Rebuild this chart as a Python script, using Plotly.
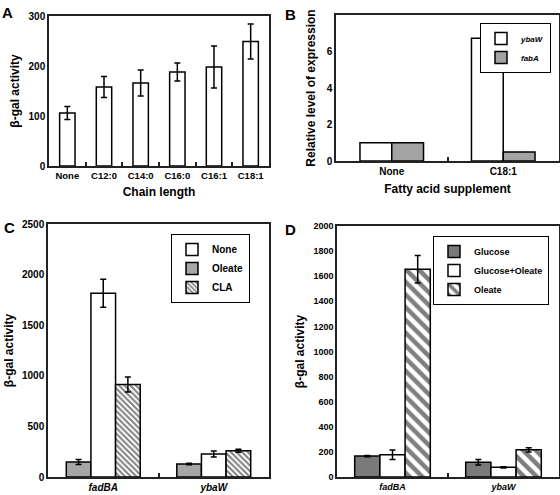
import plotly.graph_objects as go

# ---------------- data ----------------
chain_cats = ["None", "C12:0", "C14:0", "C16:0", "C16:1", "C18:1"]
chain_vals = [106, 158, 166, 188, 198, 249]
chain_err = [13, 21, 26, 18, 42, 35]

supp_cats = ["None", "C18:1"]
ybaW_expr = [1.0, 6.72]
fabA_expr = [1.0, 0.5]

genes = ["fadBA", "ybaW"]
c_oleate = [148, 128]
c_oleate_err = [25, 8]
c_none = [1816, 227]
c_none_err = [138, 30]
c_cla = [914, 260]
c_cla_err = [75, 15]

d_glucose = [167, 117]
d_glucose_err = [5, 22]
d_gluc_oleate = [178, 77]
d_gluc_oleate_err = [38, 5]
d_oleate = [1655, 217]
d_oleate_err = [110, 17]

# ---------------- styling ----------------
FONT = "Arial, Liberation Sans, sans-serif"
LINE = "#222222"
W, H = 560, 495

def px_x(a, b):
    return [a / W, b / W]

def px_y(top, bottom):
    return [1 - bottom / H, 1 - top / H]

fig = go.Figure()

def err(arr):
    return dict(type="data", array=arr, visible=True, color="black", thickness=1.5, width=3)

bar_line = dict(color="black", width=1.5)

# Panel A
fig.add_trace(go.Bar(x=chain_cats, y=chain_vals, error_y=err(chain_err), width=0.42,
                     marker=dict(color="white", line=bar_line), showlegend=False,
                     xaxis="x", yaxis="y"))

# Panel B
bw = 0.285
fig.add_trace(go.Bar(x=supp_cats, y=ybaW_expr, name="ybaW", width=bw, offset=-bw,
                     marker=dict(color="white", line=bar_line), legend="legend",
                     legendgroup="b1", xaxis="x2", yaxis="y2"))
fig.add_trace(go.Bar(x=supp_cats, y=fabA_expr, name="fabA", width=bw, offset=0,
                     marker=dict(color="#a3a3a3", line=bar_line), legend="legend",
                     legendgroup="b2", xaxis="x2", yaxis="y2"))

# Panel C
cw = 0.223
fig.add_trace(go.Bar(x=genes, y=c_oleate, error_y=err(c_oleate_err), name="Oleate",
                     width=cw, offset=-1.5 * cw, legendrank=2, legendgroup="c2",
                     marker=dict(color="#a6a6a6", line=bar_line), legend="legend2",
                     xaxis="x3", yaxis="y3"))
fig.add_trace(go.Bar(x=genes, y=c_none, error_y=err(c_none_err), name="None",
                     width=cw, offset=-0.5 * cw, legendrank=1, legendgroup="c1",
                     marker=dict(color="white", line=bar_line), legend="legend2",
                     xaxis="x3", yaxis="y3"))
fig.add_trace(go.Bar(x=genes, y=c_cla, error_y=err(c_cla_err), name="CLA",
                     width=cw, offset=0.5 * cw, legendrank=3, legendgroup="c3",
                     marker=dict(color="white", line=bar_line,
                                 pattern=dict(shape="\\", fgcolor="black", bgcolor="white",
                                              size=4, solidity=0.5)),
                     legend="legend2", xaxis="x3", yaxis="y3"))

# Panel D
dw = 0.227
fig.add_trace(go.Bar(x=genes, y=d_glucose, error_y=err(d_glucose_err), name="Glucose",
                     width=dw, offset=-1.5 * dw, legendgroup="d1",
                     marker=dict(color="#7a7a7a", line=bar_line), legend="legend3",
                     xaxis="x4", yaxis="y4"))
fig.add_trace(go.Bar(x=genes, y=d_gluc_oleate, error_y=err(d_gluc_oleate_err), name="Glucose+Oleate",
                     width=dw, offset=-0.5 * dw, legendgroup="d2",
                     marker=dict(color="white", line=bar_line), legend="legend3",
                     xaxis="x4", yaxis="y4"))
fig.add_trace(go.Bar(x=genes, y=d_oleate, error_y=err(d_oleate_err), name="Oleate",
                     width=dw, offset=0.5 * dw, legendgroup="d3",
                     marker=dict(color="white", line=bar_line,
                                 pattern=dict(shape="\\", fgcolor="black", bgcolor="white",
                                              size=9, solidity=0.5)),
                     legend="legend3", xaxis="x4", yaxis="y4"))

tickf = dict(family=FONT, size=10, color="black", weight="bold")
titlef = dict(family=FONT, size=12, color="black", weight="bold")

def xax(domain, anchor, title=None, italic=False, tfsize=10, standoff=6):
    tf = dict(tickf, size=tfsize)
    if italic:
        tf["style"] = "italic"
    d = dict(domain=domain, anchor=anchor, type="category", showline=True, mirror=True,
             linecolor=LINE, linewidth=1.5, ticks="inside", tickson="boundaries",
             ticklen=4, tickcolor=LINE, tickwidth=1.5, tickfont=tf, showgrid=False,
             zeroline=False, automargin=False, fixedrange=True, tickangle=0)
    if title:
        d["title"] = dict(text=title, font=titlef, standoff=standoff)
    return d

def yax(domain, anchor, rng, title, dtick=None, tickvals=None, tfsize=10, standoff=6):
    d = dict(domain=domain, anchor=anchor, range=rng, showline=True, mirror=True,
             linecolor=LINE, linewidth=1.5, ticks="", tickfont=dict(tickf, size=tfsize),
             showgrid=False, zeroline=False, automargin=False, fixedrange=True,
             title=dict(text=title, font=titlef, standoff=standoff))
    if dtick is not None:
        d["dtick"] = dtick
    if tickvals is not None:
        d["tickvals"] = tickvals
    return d

fig.update_layout(
    width=W, height=H, margin=dict(l=0, r=0, t=0, b=0),
    paper_bgcolor="white", plot_bgcolor="white", barmode="overlay",
    font=dict(family=FONT, color="black"),
    xaxis=xax(px_x(49, 269), "y", "Chain length", tfsize=9.5, standoff=7),
    yaxis=yax(px_y(16, 166), "x", [0, 300], "β-gal activity", dtick=100),
    xaxis2=xax(px_x(336, 559), "y2", "Fatty acid supplement", standoff=9),
    yaxis2=yax(px_y(15, 161), "x2", [0, 8], "Relative level of expression", tickvals=[0, 2, 4, 6], standoff=8),
    xaxis3=xax(px_x(48, 269), "y3", None, italic=True),
    yaxis3=yax(px_y(224, 477), "x3", [0, 2500], "β-gal activity", dtick=500),
    xaxis4=xax(px_x(337, 559), "y4", None, italic=True, tfsize=9),
    yaxis4=yax(px_y(226, 477), "x4", [0, 2000], "β-gal activity", dtick=200, tfsize=9),
    legend=dict(x=551 / W, y=1 - 23 / H, xanchor="right", yanchor="top",
                bordercolor="black", borderwidth=1, bgcolor="white", tracegroupgap=0,
                font=dict(family=FONT, size=8, style="italic", weight="bold", color="black"),
                itemwidth=30),
    legend2=dict(x=250 / W, y=1 - 234 / H, xanchor="right", yanchor="top",
                 bordercolor="black", borderwidth=1, bgcolor="white", tracegroupgap=0,
                 font=dict(family=FONT, size=10, weight="bold", color="black"), itemwidth=30),
    legend3=dict(x=549 / W, y=1 - 236 / H, xanchor="right", yanchor="top",
                 bordercolor="black", borderwidth=1, bgcolor="white", tracegroupgap=0,
                 font=dict(family=FONT, size=9, weight="bold", color="black"), itemwidth=30),
)

letters = [("A", 0, 2), ("B", 283, 4), ("C", 2, 217), ("D", 283, 219)]
for t, x, y in letters:
    fig.add_annotation(text=t, x=x / W, y=1 - y / H, xref="paper", yref="paper",
                       xanchor="left", yanchor="top", showarrow=False,
                       font=dict(family=FONT, size=15, weight="bold", color="black"))

fig.write_html("out.html", config={"displayModeBar": False},
               post_script="document.body.style.margin='0';")
